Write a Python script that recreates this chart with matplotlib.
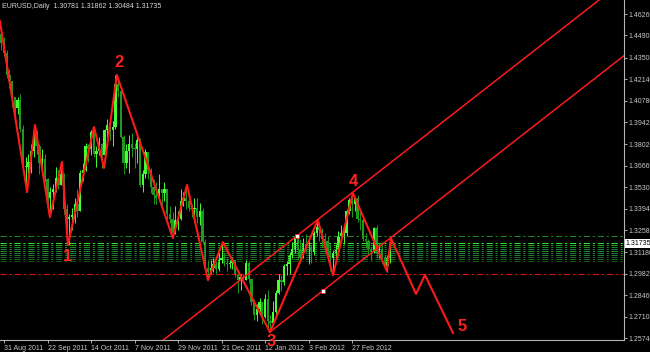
import matplotlib
matplotlib.use("Agg")
from matplotlib import pyplot as plt
from matplotlib import transforms
import numpy as np

plt.rcParams["font.family"] = ["Liberation Sans", "DejaVu Sans"]
plt.rcParams["lines.scale_dashes"] = False

# daily EURUSD bars, prices in pips (x 1e-4); index 0 = 31 Aug 2011
bar_index = np.arange(-1, 143)
first_open = 14500
highs = [14550, 14480, 14400, 14280, 14200, 14100, 14100, 14120, 13920, 13720,
         13740, 13800, 13920, 13890, 13800, 13770, 13740, 13590, 13530, 13550,
         13660, 13640, 13690, 13620, 13420, 13360, 13400, 13460, 13520, 13640,
         13680, 13810, 13800, 13890, 13910, 13790, 13850, 13810, 13900, 13960,
         13960, 13950, 14240, 14220, 14160, 13860, 13800, 13860, 13870, 13810,
         13850, 13840, 13640, 13770, 13750, 13650, 13580, 13560, 13610, 13520,
         13560, 13520, 13410, 13370, 13410, 13380, 13520, 13500, 13540, 13480,
         13420, 13460, 13460, 13430, 13400, 13200, 13070, 13070, 13080, 13060,
         13110, 13180, 13110, 13080, 13070, 13090, 13070, 12990, 12980, 12980,
         13070, 13060, 12950, 12820, 12790, 12830, 12800, 12850, 12880, 12720,
         12810, 12880, 12980, 12970, 13040, 13060, 13120, 13180, 13230, 13220,
         13200, 13210, 13230, 13190, 13160, 13250, 13320, 13310, 13270, 13240,
         13220, 13170, 13130, 13170, 13250, 13290, 13270, 13390, 13460, 13490,
         13470, 13480, 13370, 13330, 13240, 13200, 13150, 13280, 13290, 13170,
         13180, 13100, 13100, 13186.2]
lows = [14400, 14360, 14220, 14160, 14040, 13980, 13990, 13880, 13650, 13500,
        13600, 13620, 13720, 13740, 13610, 13630, 13560, 13380, 13340, 13390,
        13500, 13520, 13540, 13360, 13230, 13160, 13260, 13300, 13340, 13380,
        13570, 13630, 13690, 13730, 13720, 13660, 13730, 13650, 13690, 13850,
        13830, 13790, 13900, 14100, 13840, 13610, 13650, 13620, 13720, 13650,
        13680, 13530, 13500, 13590, 13580, 13490, 13420, 13420, 13440, 13400,
        13440, 13330, 13300, 13210, 13230, 13260, 13320, 13410, 13390, 13380,
        13340, 13320, 13300, 13290, 13170, 13000, 12940, 12980, 12990, 12980,
        13000, 13050, 13030, 13000, 13020, 13010, 12960, 12860, 12880, 12920,
        12940, 12920, 12780, 12690, 12680, 12740, 12660, 12700, 12640, 12620,
        12660, 12720, 12850, 12870, 12910, 12970, 12980, 13080, 13110, 13070,
        13050, 13080, 13120, 13040, 13050, 13100, 13220, 13190, 13150, 13120,
        13090, 13000, 12970, 13060, 13130, 13180, 13170, 13220, 13360, 13340,
        13380, 13310, 13260, 13190, 13150, 13100, 13070, 13110, 13090, 13080,
        13050, 13010, 12995, 13048.4]
closes = [14440, 14380, 14240, 14200, 14100, 14030, 14080, 13900, 13660, 13660,
          13690, 13760, 13870, 13790, 13680, 13710, 13580, 13460, 13500, 13520,
          13590, 13540, 13610, 13390, 13330, 13340, 13350, 13420, 13380, 13620,
          13640, 13790, 13770, 13880, 13740, 13760, 13800, 13730, 13890, 13920,
          13890, 13910, 14180, 14140, 13850, 13680, 13760, 13800, 13780, 13770,
          13830, 13540, 13610, 13750, 13640, 13530, 13480, 13460, 13520, 13490,
          13520, 13360, 13330, 13240, 13320, 13330, 13440, 13460, 13440, 13400,
          13390, 13400, 13340, 13380, 13180, 13020, 12990, 13020, 13040, 13010,
          13070, 13080, 13050, 13040, 13050, 13070, 12970, 12940, 12960, 12940,
          13050, 12950, 12800, 12720, 12760, 12800, 12710, 12820, 12680, 12670,
          12740, 12860, 12940, 12930, 13030, 13040, 13100, 13140, 13210, 13140,
          13080, 13170, 13150, 13150, 13120, 13240, 13280, 13260, 13200, 13190,
          13120, 13080, 13110, 13140, 13220, 13240, 13240, 13380, 13450, 13420,
          13460, 13330, 13320, 13200, 13190, 13140, 13120, 13270, 13110, 13140,
          13090, 13030, 13078.1, 13173.5]

# zigzag wave path (bar index, price)
zz_index = [-1.5, 8.5, 11.4, 16.9, 21.3, 23.5, 33.1, 36.8, 41.5, 62.1, 67.3,
            75.0, 80.5, 97.8, 115.4, 121.0, 128.3, 140.8, 142.3, 151.5, 154.8, 165.1]
zz_price = [1.4580, 1.3499, 1.3923, 1.3340, 1.3689, 1.3163, 1.3910, 1.3651, 1.4240,
            1.3207, 1.3543, 1.2941, 1.3182, 1.2612, 1.3321, 1.2973, 1.3492, 1.2998,
            1.3207, 1.2853, 1.2973, 1.2606]

wave_names = ["1", "2", "3", "4", "5"]
wave_index = [23.5, 42.3, 98.2, 128.3, 168.4]
wave_price = [1.3093, 1.4316, 1.2555, 1.3568, 1.2644]

# channel: lower line from wave 3, upper line parallel
channel_start = 97.8
channel_base = 1.2612
channel_slope = 0.001344
channel_width = 0.0476
anchor_upper = 107.7
anchor_lower = 117.3

# horizontal levels
level_top = 1.3220
band_levels = [1.3176, 1.3163, 1.3150, 1.3138, 1.3125, 1.3112, 1.3100, 1.3087, 1.3074, 1.3062]
band_colors = ["#2ee62e", "#1fa81f", "#178a17", "#1f7a4a", "#1c961c",
               "#2a6a5a", "#188218", "#2a5a4a", "#146e14", "#0f500f"]
level_red = 1.2980

date_ticks = [0, 16, 32, 48, 64, 80, 96, 112, 128]
date_labels = ["31 Aug 2011", "22 Sep 2011", "14 Oct 2011", "7 Nov 2011", "29 Nov 2011",
               "21 Dec 2011", "12 Jan 2012", "3 Feb 2012", "27 Feb 2012"]
price_ticks = [1.46260, 1.44900, 1.43500, 1.42140, 1.40780, 1.39420, 1.38020, 1.36660,
               1.35300, 1.33940, 1.32580, 1.31180, 1.29820, 1.28460, 1.27100, 1.25740]

fig = plt.figure(figsize=(6.5, 3.52), dpi=100, facecolor="black")
ax = fig.add_axes([0, 12 / 352, 624 / 650, 340 / 352], facecolor="black")

h = np.array(highs) / 1e4
l = np.array(lows) / 1e4
c = np.array(closes) / 1e4
o = np.array([first_open] + closes[:-1]) / 1e4

# horizontal objects
ax.axhline(level_top, color="#1f8a1f", lw=0.72, dashes=(4.5, 2, 1.5, 2))
for lev, col in zip(band_levels, band_colors):
    ax.axhline(lev, color=col, lw=0.72, dashes=(4.5, 2, 1.5, 2))
ax.axhline(level_red, color="#e01010", lw=0.75, dashes=(4.5, 2.2, 1.5, 2.2))

# candles
up = c >= o
for mask, col in ((up, "#44ff33"), (~up, "#1e9a1e")):
    ax.vlines(bar_index[mask], l[mask], h[mask], color=col, lw=0.7)
    ax.bar(bar_index[mask], np.maximum(np.abs(c - o), 0.0003)[mask],
           bottom=np.minimum(o, c)[mask], width=0.85, color=col, linewidth=0)

# channel
xs_low = np.array([channel_start, 240])
ax.plot(xs_low, channel_base + channel_slope * (xs_low - channel_start), color="#ff1a1a", lw=1.1)
xs_up = np.array([-10, 240])
ax.plot(xs_up, channel_base + channel_width + channel_slope * (xs_up - channel_start),
        color="#ff1a1a", lw=1.1)
ax.plot([anchor_upper], [channel_base + channel_width + channel_slope * (anchor_upper - channel_start)],
        marker="s", ms=2.5, mfc="white", mec="#ff1a1a", mew=0.6)
ax.plot([anchor_lower], [channel_base + channel_slope * (anchor_lower - channel_start)],
        marker="s", ms=2.5, mfc="white", mec="#ff1a1a", mew=0.6)

# zigzag
ax.plot(zz_index, zz_price, color="#ff1a1a", lw=1.5)
for name, xi, yi in zip(wave_names, wave_index, wave_price):
    ax.text(xi, yi, name, color="#ff2020", fontsize=12, fontweight="bold",
            ha="center", va="center", clip_on=False, zorder=5)

ax.set_xlim(-1.47, 228.0)
ax.set_ylim(1.25614, 1.47147)

ax.yaxis.tick_right()
ax.set_yticks(price_ticks)
ax.set_yticklabels([f"{v:.5f}" for v in price_ticks])
ax.set_xticks(date_ticks)
ax.set_xticklabels(date_labels, ha="left")
ax.tick_params(axis="both", colors="#c8c8c8", labelsize=5, length=2.2, width=0.6,
               direction="out", pad=1.2)
for side in ("top", "left"):
    ax.spines[side].set_visible(False)
for side in ("right", "bottom"):
    ax.spines[side].set_color("#b4b4b4")
    ax.spines[side].set_linewidth(0.8)

trans = transforms.blended_transform_factory(ax.transAxes, ax.transData)
ax.text(1.003, c[-1], f"{c[-1]:.5f}", transform=trans, fontsize=5, color="black",
        va="center", ha="left", clip_on=False, zorder=6,
        bbox=dict(facecolor="white", edgecolor="none", pad=0.8))

fig.text(2 / 650, 1 - 7 / 352,
         f"EURUSD,Daily  {o[-1]:.5f} {h[-1]:.5f} {l[-1]:.5f} {c[-1]:.5f}",
         color="#d8d8d8", fontsize=5, va="center", ha="left")

fig.savefig("out.png", dpi=100, facecolor="black")
